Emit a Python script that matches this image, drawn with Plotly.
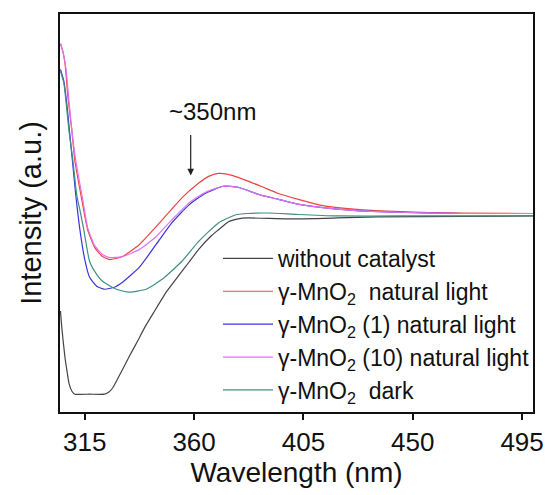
import plotly.graph_objects as go

# ---- data (wavelength in nm, intensity in arbitrary units) ----
wl_black = [305.0, 305.4, 306.0, 306.9, 307.7, 308.5, 309.7, 310.9, 317.0, 323.1, 324.8, 326.4,
            328.0, 330.1, 333.3, 336.6, 339.8, 343.5, 348.8, 353.7, 357.8, 361.8, 367.1, 370.0,
            374.0, 378.1, 382.2, 398.5, 418.8, 435.1, 499.5]
int_black = [102, 89, 74, 54, 41, 29, 21, 18, 18, 18, 20, 24,
             31, 41, 56, 71, 86, 101, 122, 138, 151, 164, 178, 184,
             192, 195, 196, 195, 196, 197, 198]

wl_red = [305.0, 306.0, 306.9, 308.1, 309.7, 310.9, 313.8, 316.2, 319.1, 322.3, 325.2, 330.5,
          337.4, 344.3, 350.8, 355.7, 361.8, 366.0, 370.0, 374.0, 378.1, 387.5, 394.4, 402.6,
          411.9, 425.8, 439.2, 456.7, 470.6, 499.5]
int_red = [372, 364, 351, 317, 284, 254, 214, 184, 166, 157, 154, 157,
           169, 187, 205, 218, 231, 238, 241, 240, 237, 228, 221, 215,
           209, 205, 203, 201.5, 201, 200.5]

wl_blue = [305.0, 306.4, 307.7, 308.9, 310.1, 311.3, 313.0, 315.0, 317.0, 319.9, 323.1, 327.2,
           330.5, 337.4, 344.3, 350.8, 357.8, 364.7, 372.0, 378.1, 387.5, 394.4, 402.6, 418.8,
           439.2, 470.6, 499.5]
int_blue = [346, 334, 309, 279, 249, 219, 184, 154, 136, 127, 124, 126,
            131, 146, 169, 191, 209, 221, 228, 227, 219, 215, 210, 205,
            202, 200.5, 200.5]

wl_mag = [305.0, 306.0, 307.3, 308.5, 309.7, 311.3, 314.2, 316.2, 319.1, 322.3, 325.2, 330.5,
          337.4, 344.3, 350.8, 357.8, 364.7, 372.0, 378.1, 387.5, 394.4, 402.6, 418.8, 439.2,
          470.6, 499.5]
int_mag = [372, 364, 346, 314, 284, 254, 214, 186, 168, 159, 156, 157,
           164, 177, 194, 211, 222, 228, 227, 219, 215, 210, 205, 202,
           200.5, 200.5]

wl_teal = [305.0, 306.4, 308.5, 310.1, 311.7, 313.0, 314.6, 317.0, 319.9, 322.3, 328.0, 333.3,
           340.2, 346.8, 354.9, 361.8, 370.0, 376.9, 382.2, 390.3, 402.6, 418.8, 443.3, 499.5]
int_teal = [344, 332, 284, 254, 219, 204, 184, 152, 139, 132, 124, 121,
            124, 134, 152, 172, 191, 199, 200.5, 201, 199.5, 198, 198, 198]

series_names = ["without catalyst",
                "γ-MnO<sub>2</sub>  natural light",
                "γ-MnO<sub>2</sub> (1) natural light",
                "γ-MnO<sub>2</sub> (10) natural light",
                "γ-MnO<sub>2</sub>  dark"]
series_colors = ["#444444", "#ee4444", "#3a34dd", "#df72f0", "#3f8f85"]

x_ticks = [315, 360, 405, 450, 495]
peak_label = "~350nm"
peak_wl = 358.6
peak_int = 239

series = [(wl_black, int_black), (wl_red, int_red), (wl_blue, int_blue),
          (wl_mag, int_mag), (wl_teal, int_teal)]

fig = go.Figure()
for i in range(5):
    xs, ys = series[i]
    fig.add_trace(go.Scatter(
        x=xs, y=ys, mode="lines", name=series_names[i],
        line=dict(color=series_colors[i], width=1.2, shape="spline", smoothing=0.5),
    ))

fig.add_annotation(x=peak_wl, y=peak_int, xref="x", yref="y", text="",
                   showarrow=True, ax=0, ay=-42, arrowhead=2, arrowsize=1.1,
                   arrowwidth=1.2, arrowcolor="#222222")
fig.add_annotation(x=367.5, y=304, xref="x", yref="y", text=peak_label,
                   showarrow=False, font=dict(size=24, color="#111111",
                                              family="Arial, Liberation Sans, sans-serif"))

fig.update_layout(
    width=556, height=495,
    margin=dict(l=60, r=18, t=12, b=81),
    paper_bgcolor="white", plot_bgcolor="white",
    font=dict(family="Arial, Liberation Sans, sans-serif", color="#111111"),
    showlegend=True,
    legend=dict(x=0.334, y=0.44, xanchor="left", yanchor="top",
                bgcolor="rgba(0,0,0,0)", font=dict(size=23, color="#111111"),
                itemwidth=50),
    xaxis=dict(range=[304.8, 499.5], tickvals=x_ticks, ticks="outside", ticklen=6,
               tickwidth=2, tickcolor="#111111", showline=True, linecolor="#111111",
               linewidth=2, mirror=True, showgrid=False, zeroline=False,
               tickfont=dict(size=26, color="#111111"),
               title=dict(text="Wavelength (nm)", font=dict(size=28, color="#111111"),
                          standoff=6)),
    yaxis=dict(range=[0, 402], showticklabels=False, ticks="", showline=True,
               linecolor="#111111", linewidth=2, mirror=True, showgrid=False,
               zeroline=False,
               title=dict(text="Intensity (a.u.)", font=dict(size=29, color="#111111"),
                          standoff=8)),
)

fig.write_html("out.html")
